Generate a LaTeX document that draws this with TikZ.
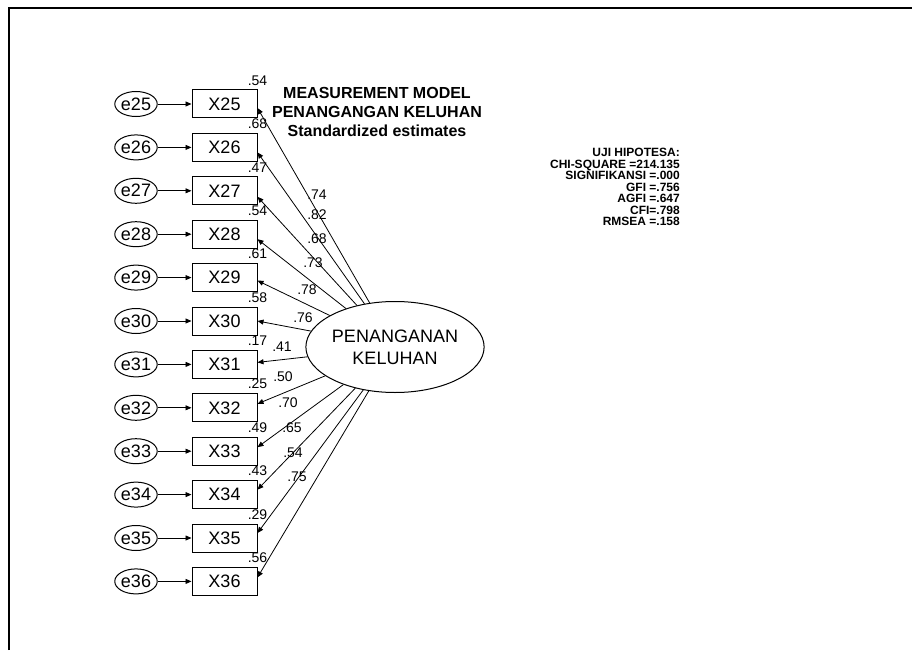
\documentclass[tikz,border=0pt]{standalone}
\usepackage{fontspec}
\setmainfont{Liberation Sans}
\usetikzlibrary{arrows.meta,shapes.geometric}
\begin{document}
\begin{tikzpicture}[x=1pt,y=-1pt,
  obs/.style={draw, line width=1pt, minimum width=65pt, minimum height=28pt, inner sep=0pt, font=\fontsize{18}{20}\selectfont},
  err/.style={draw, ellipse, line width=1pt, minimum width=38pt, minimum height=25pt, inner sep=0pt, font=\fontsize{18}{20}\selectfont},
  lat/.style={draw, ellipse, line width=1pt, minimum width=136pt, minimum height=91pt, inner sep=0pt, align=center, font=\fontsize{18}{22}\selectfont},
  arr/.style={-{Triangle[length=6pt,width=5pt]}, line width=0.8pt},
  num/.style={font=\fontsize{14}{14}\selectfont, inner sep=0pt},
]
\useasboundingbox (0,0) rectangle (912,650);
\draw[line width=2pt] (9,650) -- (9,8) -- (912,8);

\node[lat] (E) at (395,347) {PENANGANAN\\KELUHAN};

\foreach \i/\rs/\ld/\lx/\ly/\off [count=\k from 0] in
 {25/.54/.74/317/195/-4, 26/.68/.82/317/215/-5, 27/.47/.68/317/239/-6,
  28/.54/.73/313/263/-5, 29/.61/.78/307/290/-3, 30/.58/.76/303/318/0,
  31/.17/.41/282/347/2, 32/.25/.50/283/377/4, 33/.49/.70/288/403/4,
  34/.43/.65/292/428/5, 35/.29/.54/293/453/5, 36/.56/.75/297/477/4}
{
  \node[obs] (X\i) at (224.5,{104+43.4*\k}) {X\i};
  \node[err] (e\i) at (136,{104+43.4*\k}) {e\i};
  \draw[arr] (e\i) -- (X\i);
  \draw[arr] (E) -- ([yshift=\off pt]X\i.east);
  \node[num, anchor=south] (r\i) at ([yshift=4pt]X\i.north east) {\rs};
  \node[num] (l\i) at (\lx,\ly) {\ld};
}

\node[font=\bfseries\fontsize{16}{19}\selectfont, align=center, inner sep=0pt] (title) at (377,112)
  {MEASUREMENT MODEL\\PENANGANGAN KELUHAN\\Standardized estimates};

\node[anchor=north east, align=right, font=\bfseries\fontsize{12}{11.5}\selectfont, inner sep=0pt] (stats) at (680,148)
  {UJI HIPOTESA:\\CHI-SQUARE =214.135\\SIGNIFIKANSI =.000\\GFI =.756\\AGFI =.647\\CFI=.798\\RMSEA =.158};
\end{tikzpicture}
\end{document}
